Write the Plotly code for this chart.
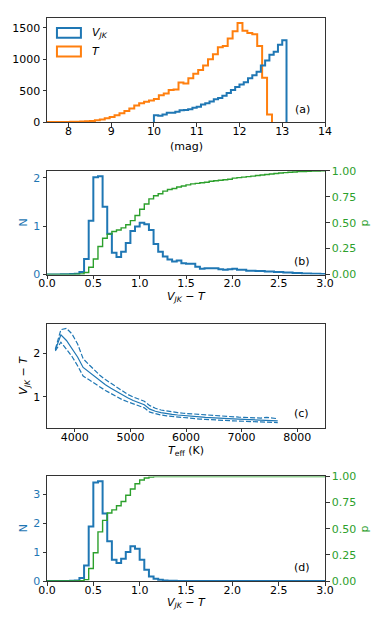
import numpy as np
import plotly.graph_objects as go

# ---------------- data ----------------
# panel (a): magnitude histograms
T_BIN_START = 7.01
T_BIN_WIDTH = 0.115
T_COUNTS = [1, 1, 2, 2, 3, 3, 4, 5, 6, 8, 10, 12, 16, 22, 32, 45, 62, 85, 110, 145,
            180, 220, 265, 300, 325, 345, 370, 430, 455, 510, 520, 630, 615, 700, 770,
            830, 900, 1000, 1080, 1190, 1210, 1330, 1445, 1575, 1450, 1415, 1395, 1210,
            705, 125]
VJK_BIN_START = 10.0
VJK_BIN_WIDTH = 0.1
VJK_COUNTS = [110, 105, 125, 150, 150, 165, 190, 195, 205, 230, 245, 280, 300, 330,
              365, 385, 420, 465, 510, 560, 600, 635, 700, 745, 800, 900, 980, 1070,
              1120, 1230, 1300]

# panels (b), (d): V_JK - T distributions (bins of 0.05 from 0 to 3)
DIFF_BIN_START = 0.0
DIFF_BIN_WIDTH = 0.05
B_N = [0.0, 0.0, 0.002, 0.003, 0.005, 0.008, 0.015, 0.05, 0.32, 1.11, 2.01, 2.03,
       1.40, 0.84, 0.45, 0.36, 0.47, 0.65, 0.90, 0.99, 1.07, 1.04, 0.92, 0.63, 0.47,
       0.37, 0.31, 0.27, 0.29, 0.23, 0.22, 0.22, 0.16, 0.12, 0.13, 0.13, 0.13, 0.11,
       0.10, 0.11, 0.12, 0.10, 0.10, 0.08, 0.08, 0.07, 0.07, 0.06, 0.06, 0.05, 0.05,
       0.04, 0.04, 0.03, 0.03, 0.02, 0.02, 0.015, 0.015, 0.01]
B_P = [0.0, 0.0, 0.0, 0.0, 0.0, 0.0, 0.002, 0.005, 0.02, 0.07, 0.15, 0.27, 0.35,
       0.39, 0.415, 0.43, 0.45, 0.48, 0.52, 0.57, 0.63, 0.68, 0.73, 0.76, 0.78, 0.805,
       0.82, 0.83, 0.845, 0.855, 0.865, 0.875, 0.88, 0.885, 0.89, 0.90, 0.905, 0.91,
       0.915, 0.92, 0.93, 0.935, 0.94, 0.945, 0.95, 0.955, 0.96, 0.965, 0.97, 0.975,
       0.98, 0.983, 0.987, 0.99, 0.993, 0.995, 0.997, 0.998, 0.999, 1.0]
D_N = [0.0, 0.0, 0.0, 0.002, 0.004, 0.008, 0.02, 0.10, 0.54, 1.89, 3.41, 3.45, 2.34,
       1.38, 0.74, 0.62, 0.77, 1.00, 1.20, 1.12, 0.74, 0.39, 0.16, 0.08, 0.04, 0.02,
       0.01, 0.005, 0.002, 0.0, 0.0, 0.0, 0.0, 0.0, 0.0, 0.0, 0.0, 0.0, 0.0, 0.0, 0.0,
       0.0, 0.0, 0.0, 0.0, 0.0, 0.0, 0.0, 0.0, 0.0, 0.0, 0.0, 0.0, 0.0, 0.0, 0.0, 0.0,
       0.0, 0.0, 0.0]
D_P = [0.0, 0.0, 0.0, 0.0, 0.0, 0.0, 0.0, 0.003, 0.013, 0.12, 0.27, 0.47, 0.58, 0.65,
       0.68, 0.72, 0.76, 0.82, 0.88, 0.93, 0.966, 0.985, 0.995, 0.998, 0.999, 1.0, 1.0,
       1.0, 1.0, 1.0, 1.0, 1.0, 1.0, 1.0, 1.0, 1.0, 1.0, 1.0, 1.0, 1.0, 1.0, 1.0, 1.0,
       1.0, 1.0, 1.0, 1.0, 1.0, 1.0, 1.0, 1.0, 1.0, 1.0, 1.0, 1.0, 1.0, 1.0, 1.0, 1.0,
       1.0]

# panel (c): V_JK - T vs Teff
TEFF = [3650, 3750, 3850, 3950, 4050, 4150, 4250, 4350, 4450, 4550, 4650, 4750, 4850,
        4950, 5050, 5150, 5250, 5350, 5450, 5550, 5650, 5750, 5850, 5950, 6050, 6150,
        6250, 6350, 6450, 6550, 6650, 6750, 6850, 6950, 7050, 7150, 7250, 7350, 7450,
        7550, 7650]
VT_MID = [2.08, 2.43, 2.30, 2.12, 1.92, 1.68, 1.58, 1.47, 1.37, 1.28, 1.20, 1.12, 1.04,
          0.98, 0.92, 0.87, 0.82, 0.72, 0.67, 0.64, 0.615, 0.60, 0.585, 0.57, 0.56,
          0.55, 0.54, 0.53, 0.52, 0.51, 0.505, 0.50, 0.495, 0.49, 0.485, 0.48, 0.475,
          0.47, 0.465, 0.46, 0.45]
VT_UP = [2.10, 2.55, 2.58, 2.45, 2.22, 1.88, 1.75, 1.62, 1.50, 1.40, 1.31, 1.22, 1.13,
         1.06, 1.00, 0.95, 0.90, 0.80, 0.74, 0.70, 0.675, 0.655, 0.64, 0.625, 0.615,
         0.60, 0.59, 0.58, 0.57, 0.56, 0.555, 0.545, 0.54, 0.535, 0.53, 0.525, 0.52,
         0.515, 0.53, 0.51, 0.50]
VT_LO = [2.06, 2.26, 2.10, 1.93, 1.72, 1.48, 1.40, 1.31, 1.23, 1.15, 1.08, 1.01, 0.94,
         0.89, 0.84, 0.79, 0.75, 0.65, 0.61, 0.585, 0.565, 0.55, 0.535, 0.52, 0.51,
         0.50, 0.49, 0.485, 0.475, 0.47, 0.46, 0.455, 0.45, 0.445, 0.44, 0.435, 0.43,
         0.425, 0.42, 0.415, 0.41]

BLUE = "#1f77b4"
ORANGE = "#ff7f0e"
GREEN = "#2ca02c"
FONT = "DejaVu Sans"
FS = 11


def step_xy(start, width, vals, close=True):
    edges = start + width * np.arange(len(vals) + 1)
    x = [edges[0]] + list(edges)
    y = [0.0] + list(vals) + [vals[-1]]
    if close:
        x.append(edges[-1])
        y.append(0.0)
    return x, y


fig = go.Figure()

# (a)
x, y = step_xy(T_BIN_START, T_BIN_WIDTH, T_COUNTS)
fig.add_trace(go.Scatter(x=x, y=y, mode="lines", line=dict(color=ORANGE, width=2, shape="hv"),
                         xaxis="x", yaxis="y", showlegend=False))
x, y = step_xy(VJK_BIN_START, VJK_BIN_WIDTH, VJK_COUNTS)
fig.add_trace(go.Scatter(x=x, y=y, mode="lines", line=dict(color=BLUE, width=2, shape="hv"),
                         xaxis="x", yaxis="y", showlegend=False))

# (b)
x, y = step_xy(DIFF_BIN_START, DIFF_BIN_WIDTH, B_N)
fig.add_trace(go.Scatter(x=x, y=y, mode="lines", line=dict(color=BLUE, width=2, shape="hv"),
                         xaxis="x2", yaxis="y2", showlegend=False))
x, y = step_xy(DIFF_BIN_START, DIFF_BIN_WIDTH, B_P, close=False)
fig.add_trace(go.Scatter(x=x, y=y, mode="lines", line=dict(color=GREEN, width=1.4, shape="hv"),
                         xaxis="x2", yaxis="y3", showlegend=False))

# (c)
fig.add_trace(go.Scatter(x=TEFF, y=VT_MID, mode="lines", line=dict(color=BLUE, width=1.2),
                         xaxis="x3", yaxis="y4", showlegend=False))
fig.add_trace(go.Scatter(x=TEFF, y=VT_UP, mode="lines",
                         line=dict(color=BLUE, width=1.2, dash="5px,2px"),
                         xaxis="x3", yaxis="y4", showlegend=False))
fig.add_trace(go.Scatter(x=TEFF, y=VT_LO, mode="lines",
                         line=dict(color=BLUE, width=1.2, dash="5px,2px"),
                         xaxis="x3", yaxis="y4", showlegend=False))

# (d)
x, y = step_xy(DIFF_BIN_START, DIFF_BIN_WIDTH, D_N)
fig.add_trace(go.Scatter(x=x, y=y, mode="lines", line=dict(color=BLUE, width=2, shape="hv"),
                         xaxis="x4", yaxis="y5", showlegend=False))
x, y = step_xy(DIFF_BIN_START, DIFF_BIN_WIDTH, D_P, close=False)
fig.add_trace(go.Scatter(x=x, y=y, mode="lines", line=dict(color=GREEN, width=1.4, shape="hv"),
                         xaxis="x4", yaxis="y6", showlegend=False))

AX = dict(showgrid=False, zeroline=False, showline=True, linecolor="#333", linewidth=1,
          ticks="outside", ticklen=3.5, tickwidth=1, tickcolor="#333",
          tickfont=dict(family=FONT, size=FS, color="black"))
XAX = dict(AX, ticklabelstandoff=-5)

D_A = [0.8148, 1.0]
D_B = [0.5444, 0.7284]
D_C = [0.2721, 0.4573]
D_D = [0.0, 0.1857]

fig.update_layout(
    width=382, height=627,
    margin=dict(l=46, r=57, t=14, b=46),
    paper_bgcolor="white", plot_bgcolor="white",
    font=dict(family=FONT, size=FS, color="black"),
    xaxis=dict(XAX, domain=[0, 1], anchor="y", range=[7.5, 14], dtick=1, mirror=True),
    yaxis=dict(AX, domain=D_A, anchor="x", range=[0, 1654], tickvals=[0, 500, 1000, 1500],
               tickformat="d", mirror=True),
    xaxis2=dict(XAX, domain=[0, 1], anchor="y2", range=[0, 3], dtick=0.5, tickformat=".1f",
                mirror=True),
    yaxis2=dict(AX, domain=D_B, anchor="x2", range=[0, 2.14], tickvals=[0, 1, 2],
                tickfont=dict(family=FONT, size=FS, color=BLUE)),
    yaxis3=dict(AX, overlaying="y2", side="right", anchor="x2", range=[0, 1.0],
                tickvals=[0, 0.25, 0.5, 0.75, 1.0], tickformat=".2f",
                tickfont=dict(family=FONT, size=FS, color=GREEN)),
    xaxis3=dict(XAX, domain=[0, 1], anchor="y4", range=[3500, 8500],
                tickvals=[4000, 5000, 6000, 7000, 8000], tickformat="d", mirror=True),
    yaxis4=dict(AX, domain=D_C, anchor="x3", range=[0.29, 2.69], tickvals=[1, 2],
                mirror=True),
    xaxis4=dict(XAX, domain=[0, 1], anchor="y5", range=[0, 3], dtick=0.5, tickformat=".1f",
                mirror=True),
    yaxis5=dict(AX, domain=D_D, anchor="x4", range=[0, 3.62], tickvals=[0, 1, 2, 3],
                tickfont=dict(family=FONT, size=FS, color=BLUE)),
    yaxis6=dict(AX, overlaying="y5", side="right", anchor="x4", range=[0, 1.0],
                tickvals=[0, 0.25, 0.5, 0.75, 1.0], tickformat=".2f",
                tickfont=dict(family=FONT, size=FS, color=GREEN)),
)

VT = "<i>V</i><sub><i>JK</i></sub> \u2212 <i>T</i>"
ann = []


def txt(text, x, y, xref="paper", yref="paper", color="black", angle=0, xanchor="center",
        size=FS):
    ann.append(dict(text=text, x=x, y=y, xref=xref, yref=yref, showarrow=False,
                    xanchor=xanchor, yanchor="middle", textangle=angle,
                    font=dict(family=FONT, size=size, color=color)))


# axis titles
txt("(mag)", 0.5, 0.772)
txt(VT, 0.5, 0.505)
txt("<i>T</i><sub>eff</sub> (K)", 0.5, 0.2316)
txt(VT, 0.5, -0.0388)
txt("N", -0.0835, 0.6364, color=BLUE, angle=-90)
txt("p", 1.1434, 0.6364, color=GREEN, angle=-90)
txt(VT, -0.0824, 0.3647, angle=-90)
txt("N", -0.0835, 0.0931, color=BLUE, angle=-90)
txt("p", 1.1434, 0.0931, color=GREEN, angle=-90)

# panel labels
txt("(a)", 0.919, 0.124, xref="x domain", yref="y domain")
txt("(b)", 0.919, 0.128, xref="x2 domain", yref="y2 domain")
txt("(c)", 0.916, 0.14, xref="x3 domain", yref="y4 domain")
txt("(d)", 0.919, 0.13, xref="x4 domain", yref="y5 domain")

# legend of panel (a)
txt("<i>V</i><sub><i>JK</i></sub>", 0.154, 0.857, xref="x domain", yref="y domain",
    xanchor="left")
txt("<i>T</i>", 0.154, 0.679, xref="x domain", yref="y domain", xanchor="left")
fig.update_layout(annotations=ann)

shapes = [
    dict(type="rect", xref="x domain", yref="y domain", x0=0.0358, x1=0.122, y0=0.81,
         y1=0.905, line=dict(color=BLUE, width=2), fillcolor="rgba(0,0,0,0)"),
    dict(type="rect", xref="x domain", yref="y domain", x0=0.0358, x1=0.122, y0=0.631,
         y1=0.727, line=dict(color=ORANGE, width=2), fillcolor="rgba(0,0,0,0)"),
]
fig.update_layout(shapes=shapes)

fig.write_html(
    "out.html",
    config={"displayModeBar": False},
    post_script="document.body.style.margin='0';document.body.style.padding='0';"
                "document.documentElement.style.overflow='hidden';",
)
